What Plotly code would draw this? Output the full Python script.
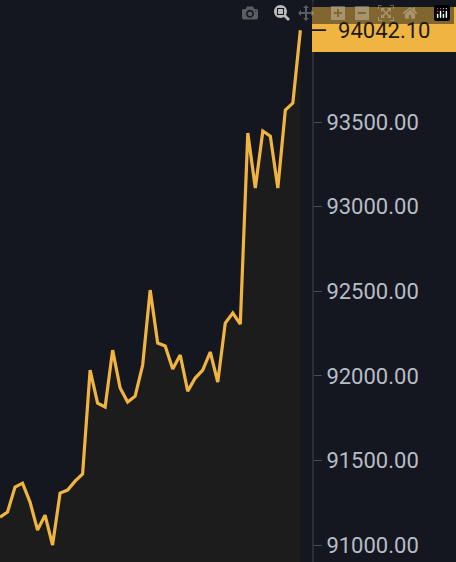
import plotly.graph_objects as go

prices = [91165, 91195, 91343, 91366, 91254, 91089, 91177, 91000, 91307, 91325,
          91378, 91420, 92034, 91839, 91816, 92152, 91928, 91845, 91880, 92064,
          92507, 92194, 92176, 92040, 92123, 91910, 91987, 92034, 92141, 91963,
          92312, 92371, 92306, 93435, 93110, 93447, 93417, 93110, 93571, 93612,
          94042.10]
steps = list(range(len(prices)))
tick_vals = [91000, 91500, 92000, 92500, 93000, 93500]
last_price = prices[-1]

bg = "#14171f"
gold = "#f0b440"

fig = go.Figure()
fig.add_trace(go.Scatter(
    x=steps, y=prices, mode="lines",
    line=dict(color=gold, width=3.2),
    fill="tozeroy", fillcolor="#1d1c1c",
    hoverinfo="skip", showlegend=False,
))

fig.update_layout(
    width=456, height=562,
    margin=dict(l=0, r=144, t=0, b=0),
    paper_bgcolor=bg, plot_bgcolor=bg,
    xaxis=dict(visible=False, range=[0, len(prices) - 1 + 1.55]),
    yaxis=dict(
        side="right", range=[90900, 94221],
        tickvals=tick_vals, ticktext=[f"{v:.2f}" for v in tick_vals],
        showgrid=False, zeroline=False,
        showline=True, linecolor="#2b2f36", linewidth=2,
        ticks="outside", ticklen=8, tickcolor="#474d57",
        tickfont=dict(family="Roboto", size=22, color="#b7bdc6"),
    ),
    shapes=[dict(type="rect", xref="paper", yref="paper", x0=1.0, x1=1.47,
                 y0=1 - 52 / 562, y1=1 - 7 / 562, fillcolor=gold, line_width=0)],
    annotations=[dict(
        xref="paper", yref="y", x=1.0, y=last_price, xanchor="left",
        text=f"—  {last_price:.2f}", showarrow=False, xshift=-4,
        font=dict(family="Roboto", size=22, color="#1a1a1a"),
    )],
)

fig.write_html("out.html", post_script="document.body.style.margin='0';")
